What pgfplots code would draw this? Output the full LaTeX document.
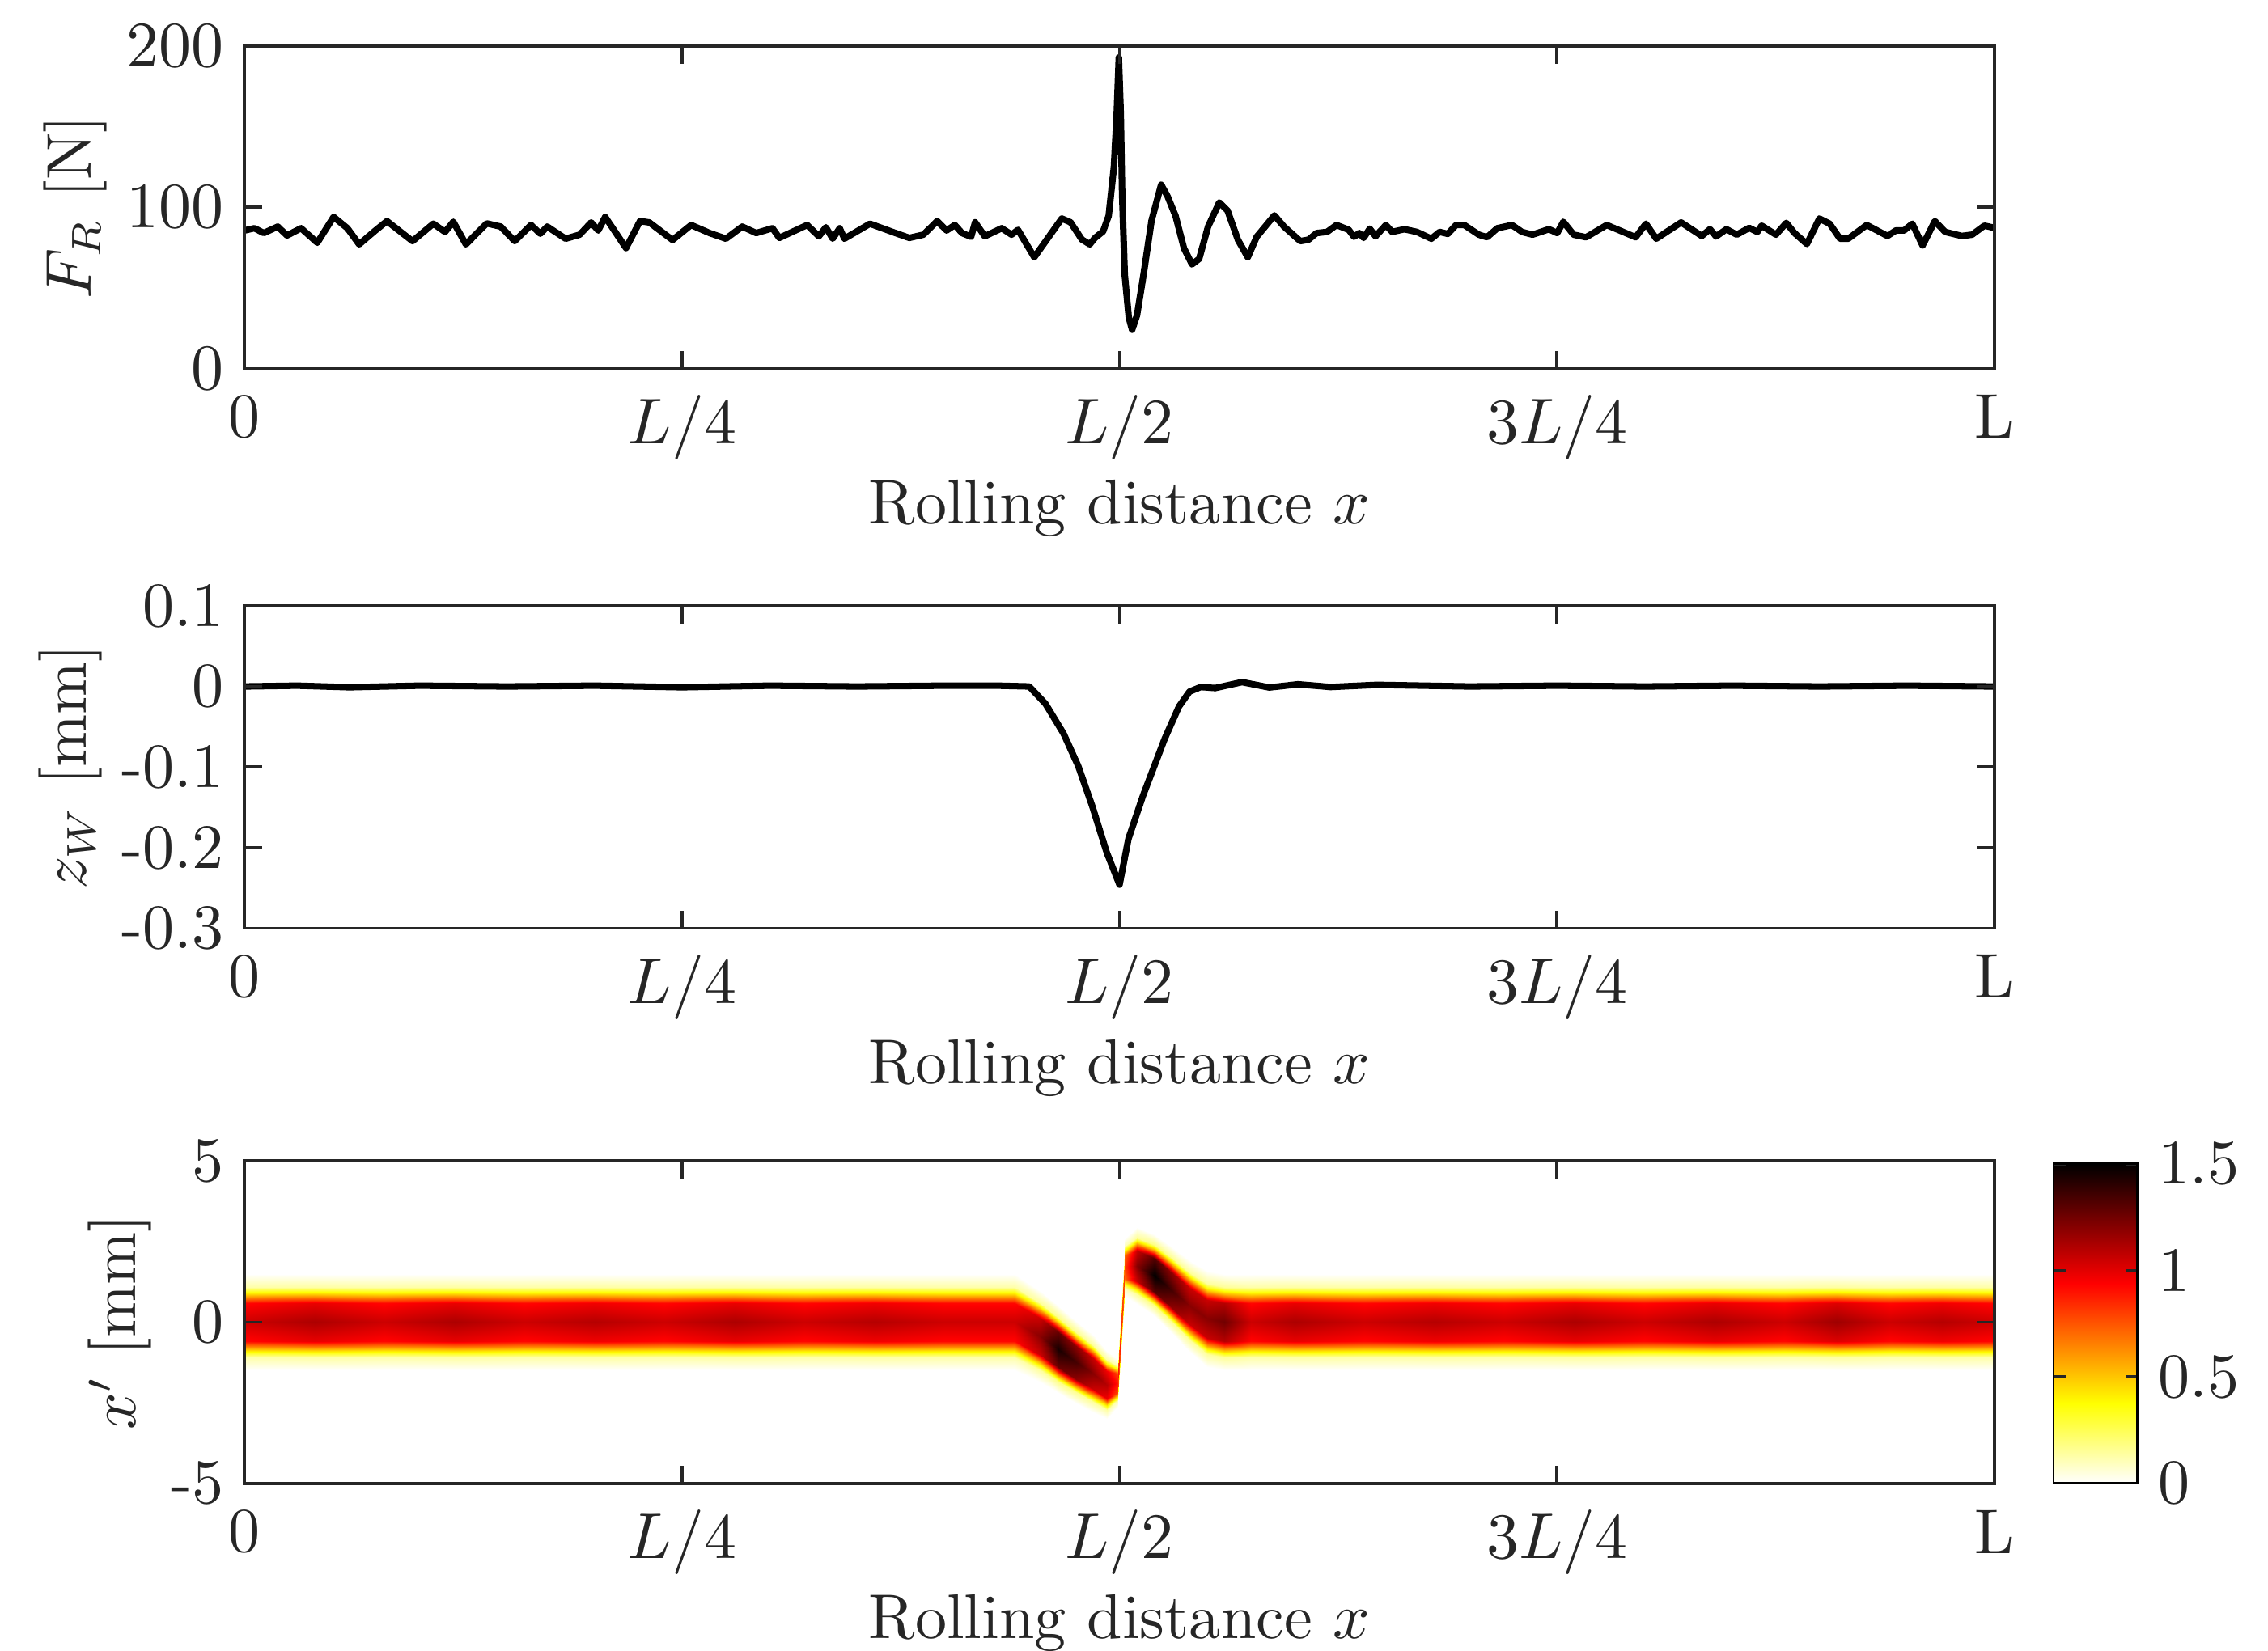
\documentclass[border=0pt]{standalone}
\usepackage{fontspec}
\usepackage{pgfplots}
\pgfplotsset{compat=1.18}

\pgfplotsset{
  every axis/.append style={font=\fontsize{10.7}{12.8}\selectfont},
  panel/.style={
    scale only axis, width=296.3pt, height=54.6pt,
    xmin=0, xmax=1,
    xtick={0,0.25,0.5,0.75,1}, xticklabels={0,$L/4$,$L/2$,$3L/4$,L},
    xlabel={Rolling distance $x$},
    xlabel shift=-3.5pt, ylabel shift=-3.5pt,
    xticklabel style={yshift=-1pt},
    major tick length=3pt,
    tick style={black!85, line width=0.5pt},
    axis line style={black!85, line width=0.5pt},
    tick label style={text=black!85}, label style={text=black!85},
    axis on top,
  },
  colorbar shift/.style={xshift=10pt},
}

\begin{document}
\begin{tikzpicture}

% ---- reaction force
\begin{axis}[panel, at={(0,0)}, anchor=north west,
  ymin=0, ymax=200, ytick={0,100,200},
  ylabel={$F_R$ [N]}]
\addplot[black, line width=1.1pt, line join=round] table {
x F
0 85.6
.0057 87
.011 84
.019 88
.0243 82.5
.0323 87
.0416 78
.0509 94
.0588 87
.0655 77
.0748 85.6
.0814 91.4
.096 79
.1079 89.8
.1146 84.7
.1193 91
.1265 77
.1384 90
.1464 88
.1544 79
.1637 89
.169 83.6
.173 88
.1835 80.5
.1915 83
.1981 90.6
.2021 85.6
.2061 94
.218 74.7
.226 91.4
.2313 90.6
.2446 79.7
.2552 89
.2658 84
.2751 80.5
.2844 88
.2924 84
.3017 87
.3056 81
.3215 89
.3282 82
.3322 87.6
.3361 80.5
.3401 87
.3428 80.5
.3574 89.8
.372 84
.3799 81
.3879 83
.3958 91.4
.4012 85.6
.4059 89
.41 84
.4152 81.7
.4175 90.7
.423 82
.4327 87
.4383 83
.442 86
.4513 69
.467 93
.472 90.7
.4785 80
.483 77
.486 81
.4906 85
.4938 94.7
.4968 125
.4984 158
.4996 193
.5007 158
.5015 108
.503 58
.5053 31.6
.5072 24
.51 33
.5137 58
.5183 91.7
.5238 114
.5275 106.7
.532 94.7
.5368 74.7
.5414 64.6
.5455 68
.5506 88
.557 103
.5617 98
.5677 79.7
.5733 69
.5784 81.7
.5885 95
.594 88
.6033 79
.608 79.9
.6126 84
.6186 84.7
.624 89
.631 86
.634 81.7
.637 84
.6395 81
.643 86.7
.6463 82
.6522 89
.6558 84.7
.6628 86.4
.6699 84.7
.6782 80.5
.6829 84.7
.6876 83.5
.6923 89
.697 89
.7053 83
.71 81.4
.7159 87
.7242 89
.73 84.7
.736 83
.7454 86.4
.7501 84
.7536 91
.7595 83
.7666 81.4
.7784 89
.7878 84.7
.7949 81.4
.8008 89.8
.8067 80.5
.8209 90.6
.8327 82.2
.8374 86.4
.8409 81.9
.8468 86.4
.8527 83
.8598 87.2
.8645 84.7
.8669 88.6
.8751 83
.881 90.3
.8857 84
.8928 77.2
.8999 93
.9058 89.8
.9117 80.5
.9164 80.5
.927 89
.9388 82.2
.9436 85.6
.9483 85.6
.953 89.8
.9589 76.3
.9659 91.4
.9718 84.7
.9813 82.2
.9872 83
.9942 88.6
1 87.2
};
\end{axis}

% ---- wheel displacement
\begin{axis}[panel, at={(0,-94.8pt)}, anchor=north west,
  ymin=-0.3, ymax=0.1, ytick={-0.3,-0.2,-0.1,0,0.1},
  yticklabels={-0.3,-0.2,-0.1,0,0.1},
  ylabel={$z_W$ [mm]}]
\addplot[black, line width=1.1pt, line join=round] table {
x z
0 0
0.03 0.001
0.06 -0.001
0.1 0.001
0.15 0
0.2 0.001
0.25 -0.001
0.3 0.001
0.35 0
0.4 0.001
0.43 0.001
0.4484 0
0.4577 -0.0215
0.468 -0.0584
0.4764 -0.0987
0.4845 -0.149
0.4927 -0.206
0.5 -0.246
0.5051 -0.189
0.5134 -0.1356
0.5258 -0.065
0.534 -0.0248
0.54 -0.0064
0.5464 -0.0007
0.5547 -0.002
0.57 0.0054
0.5856 -0.0013
0.602 0.0027
0.6206 -0.0007
0.647 0.002
0.7 0
0.75 0.001
0.8 0
0.85 0.001
0.9 0
0.95 0.001
1 0
};
\end{axis}

% ---- contact pressure map
\begin{axis}[panel, at={(0,-188.8pt)}, anchor=north west,
  ymin=-5, ymax=5, ytick={-5,0,5}, yticklabels={-5,0,5},
  ylabel={$x'$ [mm]},
  colormap={hotr}{rgb(0pt)=(1,1,1); rgb(2pt)=(1,1,0); rgb(5pt)=(1,0,0); rgb(8pt)=(0,0,0)},
  point meta min=0, point meta max=1.5,
  colorbar,
  colorbar style={at={(parent axis.south east)}, anchor=south west,
    scale only axis, width=14.2pt, height=54.1pt,
    ytick={0,0.5,1,1.5}, yticklabels={0,0.5,1,1.5},
    major tick length=2pt,
    ylabel={$p(x,x')$ [MPa]}},
]
\addplot[surf, shader=interp, mesh/ordering=y varies, mesh/rows=9, point meta=explicit]
  table[x=x, y=y, meta=v] {
x y v
0 -1.5 0
0 -1.1 0.126
0 -0.9 0.42
0 -0.6 0.924
0 0 1.05
0 0.6 0.924
0 0.9 0.42
0 1.1 0.126
0 1.5 0
0.04 -1.5 0
0.04 -1.1 0.134
0.04 -0.9 0.448
0.04 -0.6 0.986
0.04 0 1.12
0.04 0.6 0.986
0.04 0.9 0.448
0.04 1.1 0.134
0.04 1.5 0
0.08 -1.5 0
0.08 -1.1 0.126
0.08 -0.9 0.42
0.08 -0.6 0.924
0.08 0 1.05
0.08 0.6 0.924
0.08 0.9 0.42
0.08 1.1 0.126
0.08 1.5 0
0.12 -1.5 0
0.12 -1.1 0.134
0.12 -0.9 0.448
0.12 -0.6 0.986
0.12 0 1.12
0.12 0.6 0.986
0.12 0.9 0.448
0.12 1.1 0.134
0.12 1.5 0
0.16 -1.5 0
0.16 -1.1 0.126
0.16 -0.9 0.42
0.16 -0.6 0.924
0.16 0 1.05
0.16 0.6 0.924
0.16 0.9 0.42
0.16 1.1 0.126
0.16 1.5 0
0.2 -1.5 0
0.2 -1.1 0.132
0.2 -0.9 0.44
0.2 -0.6 0.968
0.2 0 1.1
0.2 0.6 0.968
0.2 0.9 0.44
0.2 1.1 0.132
0.2 1.5 0
0.24 -1.5 0
0.24 -1.1 0.126
0.24 -0.9 0.42
0.24 -0.6 0.924
0.24 0 1.05
0.24 0.6 0.924
0.24 0.9 0.42
0.24 1.1 0.126
0.24 1.5 0
0.28 -1.5 0
0.28 -1.1 0.134
0.28 -0.9 0.448
0.28 -0.6 0.986
0.28 0 1.12
0.28 0.6 0.986
0.28 0.9 0.448
0.28 1.1 0.134
0.28 1.5 0
0.32 -1.5 0
0.32 -1.1 0.126
0.32 -0.9 0.42
0.32 -0.6 0.924
0.32 0 1.05
0.32 0.6 0.924
0.32 0.9 0.42
0.32 1.1 0.126
0.32 1.5 0
0.36 -1.5 0
0.36 -1.1 0.132
0.36 -0.9 0.44
0.36 -0.6 0.968
0.36 0 1.1
0.36 0.6 0.968
0.36 0.9 0.44
0.36 1.1 0.132
0.36 1.5 0
0.4 -1.5 0
0.4 -1.1 0.126
0.4 -0.9 0.42
0.4 -0.6 0.924
0.4 0 1.05
0.4 0.6 0.924
0.4 0.9 0.42
0.4 1.1 0.126
0.4 1.5 0
0.44 -1.5 0
0.44 -1.1 0.126
0.44 -0.9 0.42
0.44 -0.6 0.924
0.44 0 1.05
0.44 0.6 0.924
0.44 0.9 0.42
0.44 1.1 0.126
0.44 1.5 0
0.455 -1.875 0
0.455 -1.495 0.144
0.455 -1.305 0.48
0.455 -1.02 1.056
0.455 -0.45 1.2
0.455 0.12 1.056
0.455 0.405 0.48
0.455 0.595 0.144
0.455 0.975 0
0.465 -2.2 0
0.465 -1.84 0.174
0.465 -1.66 0.58
0.465 -1.39 1.276
0.465 -0.85 1.45
0.465 -0.31 1.276
0.465 -0.04 0.58
0.465 0.14 0.174
0.465 0.5 0
0.475 -2.525 0
0.475 -2.185 0.162
0.475 -2.015 0.54
0.475 -1.76 1.188
0.475 -1.25 1.35
0.475 -0.74 1.188
0.475 -0.485 0.54
0.475 -0.315 0.162
0.475 0.025 0
0.485 -2.8 0
0.485 -2.48 0.144
0.485 -2.32 0.48
0.485 -2.08 1.056
0.485 -1.6 1.2
0.485 -1.12 1.056
0.485 -0.88 0.48
0.485 -0.72 0.144
0.485 -0.4 0
0.493 -3.0 0
0.493 -2.72 0.132
0.493 -2.58 0.44
0.493 -2.37 0.968
0.493 -1.95 1.1
0.493 -1.53 0.968
0.493 -1.32 0.44
0.493 -1.18 0.132
0.493 -0.9 0
0.499 -2.65 0
0.499 -2.45 0.108
0.499 -2.35 0.36
0.499 -2.2 0.792
0.499 -1.9 0.9
0.499 -1.6 0.792
0.499 -1.45 0.36
0.499 -1.35 0.108
0.499 -1.15 0
0.503 0.8 0
0.503 1.04 0.096
0.503 1.16 0.32
0.503 1.34 0.704
0.503 1.7 0.8
0.503 2.06 0.704
0.503 2.24 0.32
0.503 2.36 0.096
0.503 2.6 0
0.51 0.55 0
0.51 0.87 0.144
0.51 1.03 0.48
0.51 1.27 1.056
0.51 1.75 1.2
0.51 2.23 1.056
0.51 2.47 0.48
0.51 2.63 0.144
0.51 2.95 0
0.52 0.175 0
0.52 0.515 0.18
0.52 0.685 0.6
0.52 0.94 1.32
0.52 1.45 1.5
0.52 1.96 1.32
0.52 2.215 0.6
0.52 2.385 0.18
0.52 2.725 0
0.53 -0.35 0
0.53 0.01 0.162
0.53 0.19 0.54
0.53 0.46 1.188
0.53 1.0 1.35
0.53 1.54 1.188
0.53 1.81 0.54
0.53 1.99 0.162
0.53 2.35 0
0.54 -0.925 0
0.54 -0.545 0.144
0.54 -0.355 0.48
0.54 -0.07 1.056
0.54 0.5 1.2
0.54 1.07 1.056
0.54 1.355 0.48
0.54 1.545 0.144
0.54 1.925 0
0.55 -1.4 0
0.55 -1.0 0.144
0.55 -0.8 0.48
0.55 -0.5 1.056
0.55 0.1 1.2
0.55 0.7 1.056
0.55 1.0 0.48
0.55 1.2 0.144
0.55 1.6 0
0.56 -1.5 0
0.56 -1.1 0.15
0.56 -0.9 0.5
0.56 -0.6 1.1
0.56 0 1.25
0.56 0.6 1.1
0.56 0.9 0.5
0.56 1.1 0.15
0.56 1.5 0
0.575 -1.5 0
0.575 -1.1 0.126
0.575 -0.9 0.42
0.575 -0.6 0.924
0.575 0 1.05
0.575 0.6 0.924
0.575 0.9 0.42
0.575 1.1 0.126
0.575 1.5 0
0.6 -1.5 0
0.6 -1.1 0.134
0.6 -0.9 0.448
0.6 -0.6 0.986
0.6 0 1.12
0.6 0.6 0.986
0.6 0.9 0.448
0.6 1.1 0.134
0.6 1.5 0
0.64 -1.5 0
0.64 -1.1 0.126
0.64 -0.9 0.42
0.64 -0.6 0.924
0.64 0 1.05
0.64 0.6 0.924
0.64 0.9 0.42
0.64 1.1 0.126
0.64 1.5 0
0.68 -1.5 0
0.68 -1.1 0.132
0.68 -0.9 0.44
0.68 -0.6 0.968
0.68 0 1.1
0.68 0.6 0.968
0.68 0.9 0.44
0.68 1.1 0.132
0.68 1.5 0
0.72 -1.5 0
0.72 -1.1 0.126
0.72 -0.9 0.42
0.72 -0.6 0.924
0.72 0 1.05
0.72 0.6 0.924
0.72 0.9 0.42
0.72 1.1 0.126
0.72 1.5 0
0.76 -1.5 0
0.76 -1.1 0.134
0.76 -0.9 0.448
0.76 -0.6 0.986
0.76 0 1.12
0.76 0.6 0.986
0.76 0.9 0.448
0.76 1.1 0.134
0.76 1.5 0
0.8 -1.5 0
0.8 -1.1 0.126
0.8 -0.9 0.42
0.8 -0.6 0.924
0.8 0 1.05
0.8 0.6 0.924
0.8 0.9 0.42
0.8 1.1 0.126
0.8 1.5 0
0.84 -1.5 0
0.84 -1.1 0.134
0.84 -0.9 0.448
0.84 -0.6 0.986
0.84 0 1.12
0.84 0.6 0.986
0.84 0.9 0.448
0.84 1.1 0.134
0.84 1.5 0
0.88 -1.5 0
0.88 -1.1 0.126
0.88 -0.9 0.42
0.88 -0.6 0.924
0.88 0 1.05
0.88 0.6 0.924
0.88 0.9 0.42
0.88 1.1 0.126
0.88 1.5 0
0.91 -1.5 0
0.91 -1.1 0.138
0.91 -0.9 0.46
0.91 -0.6 1.012
0.91 0 1.15
0.91 0.6 1.012
0.91 0.9 0.46
0.91 1.1 0.138
0.91 1.5 0
0.94 -1.5 0
0.94 -1.1 0.126
0.94 -0.9 0.42
0.94 -0.6 0.924
0.94 0 1.05
0.94 0.6 0.924
0.94 0.9 0.42
0.94 1.1 0.126
0.94 1.5 0
0.97 -1.5 0
0.97 -1.1 0.132
0.97 -0.9 0.44
0.97 -0.6 0.968
0.97 0 1.1
0.97 0.6 0.968
0.97 0.9 0.44
0.97 1.1 0.132
0.97 1.5 0
1 -1.5 0
1 -1.1 0.126
1 -0.9 0.42
1 -0.6 0.924
1 0 1.05
1 0.6 0.924
1 0.9 0.42
1 1.1 0.126
1 1.5 0
};
\end{axis}

% page cut as in the reference (colour bar label runs off the edge)
\pgfresetboundingbox
\path (-41.4pt,7.8pt) rectangle (342.6pt,-271.8pt);
\end{tikzpicture}
\end{document}
